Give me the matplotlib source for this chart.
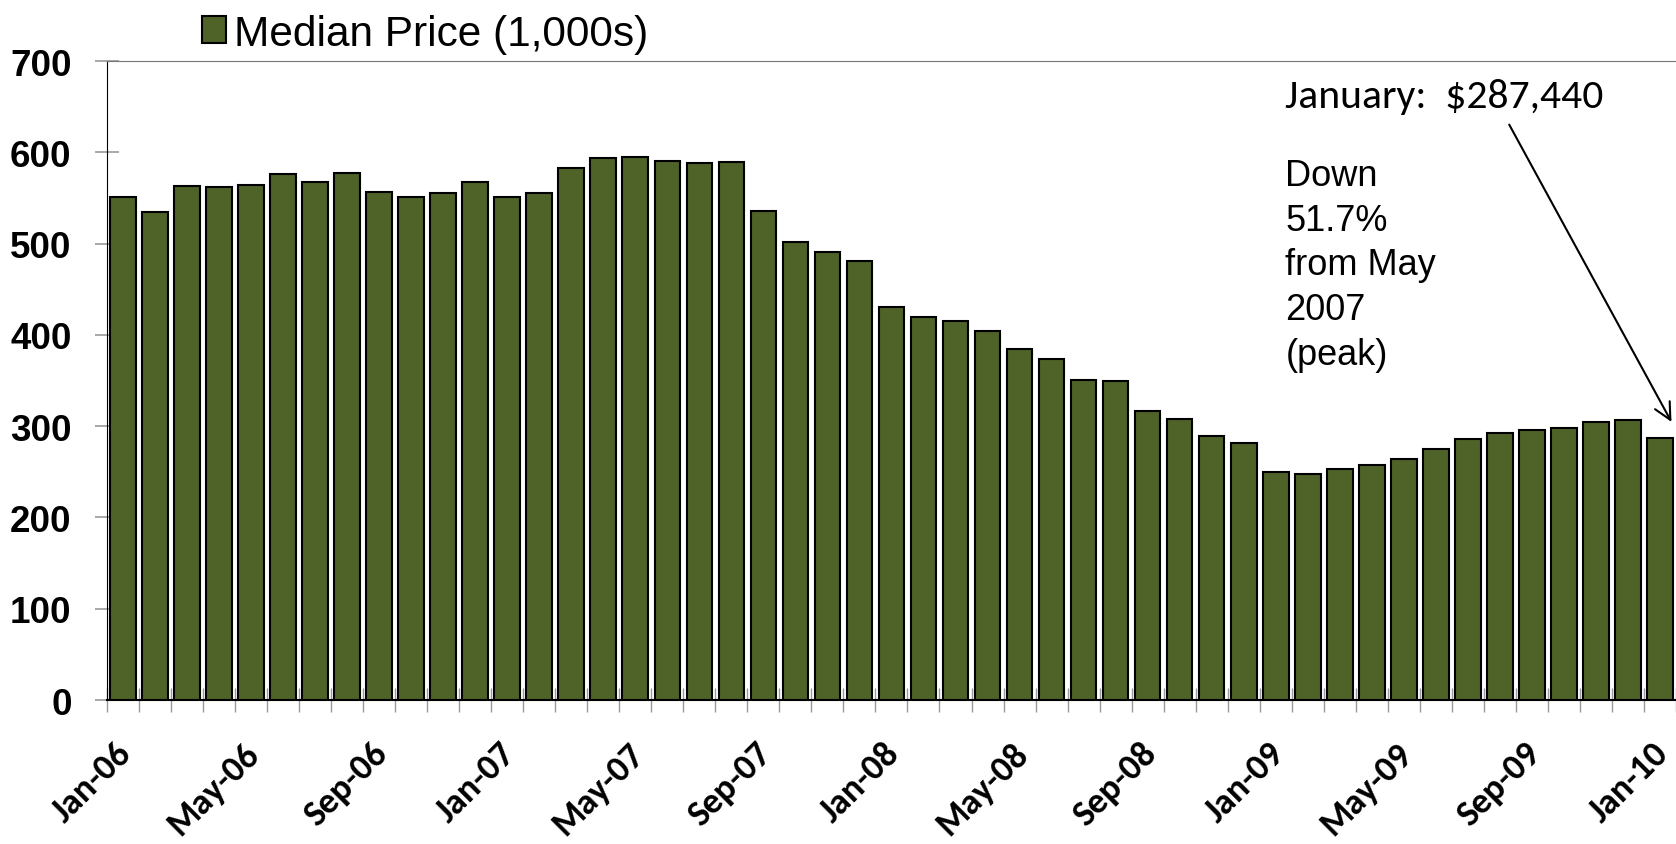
import matplotlib.pyplot as plt
import matplotlib.transforms as mtransforms
import numpy as np

# monthly median price, Jan-06 .. Jan-10 (in $1,000s)
months = ["Jan-06", "Feb-06", "Mar-06", "Apr-06", "May-06", "Jun-06", "Jul-06", "Aug-06",
          "Sep-06", "Oct-06", "Nov-06", "Dec-06",
          "Jan-07", "Feb-07", "Mar-07", "Apr-07", "May-07", "Jun-07", "Jul-07", "Aug-07",
          "Sep-07", "Oct-07", "Nov-07", "Dec-07",
          "Jan-08", "Feb-08", "Mar-08", "Apr-08", "May-08", "Jun-08", "Jul-08", "Aug-08",
          "Sep-08", "Oct-08", "Nov-08", "Dec-08",
          "Jan-09", "Feb-09", "Mar-09", "Apr-09", "May-09", "Jun-09", "Jul-09", "Aug-09",
          "Sep-09", "Oct-09", "Nov-09", "Dec-09",
          "Jan-10"]
median_price = [551, 535, 563, 562, 564, 576, 567, 577, 557, 551, 555, 568,
                551, 555, 583, 594, 595, 591, 588, 589, 536, 502, 491, 481,
                430, 420, 415, 404, 385, 374, 351, 350, 317, 308, 289, 282,
                250, 248, 253, 257, 264, 275, 286, 293, 296, 298, 305, 307,
                287.44]
label_every = 4
yticks = [0, 100, 200, 300, 400, 500, 600, 700]

arial = ["Liberation Sans", "DejaVu Sans"]
calibri = ["Carlito", "Lato", "DejaVu Sans"]

fig = plt.figure(figsize=(16.76, 8.45), dpi=100)
ax = fig.add_axes([0.0638, 0.1704, 0.9362, 0.7562])

x = np.arange(len(months))
ax.bar(x, median_price, width=0.8, color="#4F6228", edgecolor="black", linewidth=1.5,
       label="Median Price (1,000s)", zorder=3)

ax.set_xlim(-0.5, 48.16)
ax.set_ylim(0, 700)

ax.set_yticks(yticks)
ax.set_yticklabels([str(v) for v in yticks], fontsize=26.5, fontweight="bold", family=arial)
ax.tick_params(axis="y", direction="inout", length=17, width=1.2, color="#999999", pad=17)

ax.set_xticks(x[::label_every])
ax.set_xticklabels(months[::label_every], rotation=45, ha="right", va="top",
                   rotation_mode="anchor", fontsize=26, fontweight="bold", family=calibri)
ax.tick_params(axis="x", which="major", length=0, pad=26)
# nudge the rotated month labels a little to the left
shift = mtransforms.ScaledTranslation(-0.08, 0, fig.dpi_scale_trans)
for lbl in ax.get_xticklabels():
    lbl.set_transform(lbl.get_transform() + shift)
ax.set_xticks(np.arange(-0.5, len(months)), minor=True)
ax.tick_params(axis="x", which="minor", direction="inout", length=17, width=1,
               color="#999999")

ax.spines["right"].set_visible(False)
ax.spines["top"].set_color("#777777")
ax.spines["left"].set_color("black")
ax.spines["bottom"].set_color("black")
ax.spines["bottom"].set_linewidth(1.5)

leg = ax.legend(loc="lower left", bbox_to_anchor=(0.05, 0.985), frameon=False,
                prop={"family": arial, "size": 30.5},
                handlelength=0.55, handleheight=0.6, handletextpad=0.2, borderaxespad=0)

ax.text(36.3, 662, "January:  $287,440", fontsize=30, va="center", ha="left", family=calibri)
ax.text(36.3, 594, "Down\n51.7%\nfrom May\n2007\n(peak)", fontsize=26, va="top", ha="left",
        linespacing=1.36, family=arial)
ax.annotate("", xy=(48.4, 302), xytext=(43.25, 633),
            arrowprops=dict(arrowstyle="->", color="black", lw=1.5, mutation_scale=30))

fig.savefig("out.png", dpi=100)
